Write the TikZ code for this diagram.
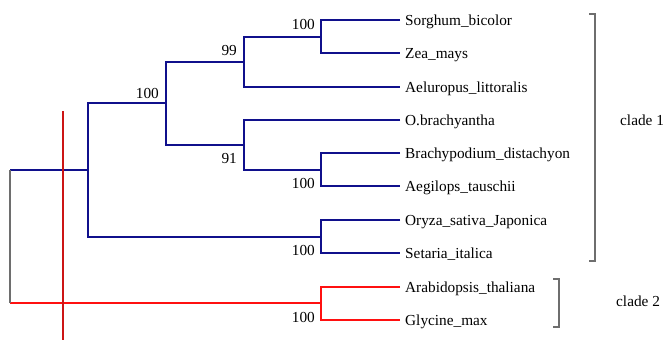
\documentclass[tikz,border=0pt]{standalone}
\usepackage{fontspec}
\setmainfont{Liberation Serif}
\definecolor{navyb}{HTML}{10108C}
\definecolor{redb}{HTML}{FF1010}
\definecolor{redm}{HTML}{CC1515}
\definecolor{brk}{HTML}{6E6E6E}
\tikzset{
  bl/.style={draw=navyb, line width=2.2pt},
  rd/.style={draw=redb, line width=2.2pt},
  leaf/.style={anchor=west, inner sep=0pt, inner xsep=5pt, text height=10pt, text depth=0pt, font=\fontsize{15.3}{18}\selectfont},
  boot/.style={inner sep=0pt, font=\fontsize{15.3}{18}\selectfont},
  clade/.style={anchor=base west, inner sep=0pt, font=\fontsize{15.3}{18}\selectfont},
  brack/.style={draw=brk, line width=1.1pt},
}
\begin{document}
\begin{tikzpicture}[x=1pt,y=-1pt]
\useasboundingbox (0,0) rectangle (665,340);
% leaves
\node[leaf] (L1) at (400,20) {Sorghum\_bicolor};
\node[leaf] (L2) at (400,53) {Zea\_mays};
\node[leaf] (L3) at (400,87) {Aeluropus\_littoralis};
\node[leaf] (L4) at (400,120) {O.brachyantha};
\node[leaf] (L5) at (400,153) {Brachypodium\_distachyon};
\node[leaf] (L6) at (400,186) {Aegilops\_tauschii};
\node[leaf] (L7) at (400,220) {Oryza\_sativa\_Japonica};
\node[leaf] (L8) at (400,253) {Setaria\_italica};
\node[leaf] (L9) at (400,287) {Arabidopsis\_thaliana};
\node[leaf] (L10) at (400,320) {Glycine\_max};
% internal nodes
\coordinate (nSZ) at (321,37);
\coordinate (n99) at (244,62);
\coordinate (nBA) at (321,170);
\coordinate (n91) at (244,145);
\coordinate (nA) at (166,103);
\coordinate (nOS) at (321,237);
\coordinate (nP) at (88,170);
\coordinate (nAG) at (321,303);
\coordinate (rT) at (10,170);
\coordinate (rB) at (10,303);
% blue tree
\draw[bl] (L1.west) -| (nSZ) |- (L2.west);
\draw[bl] (nSZ) -| (n99) |- (L3.west);
\draw[bl] (L5.west) -| (nBA) |- (L6.west);
\draw[bl] (L4.west) -| (n91) |- (nBA);
\draw[bl] (n99) -| (nA) |- (n91);
\draw[bl] (L7.west) -| (nOS) |- (L8.west);
\draw[bl] (nA) -| (nP) |- (nOS);
\draw[bl] (rT) -- (nP);
% red tree
\draw[rd] (L9.west) -| (nAG) |- (L10.west);
\draw[rd] (rB) -- (nAG);
\draw[draw=brk, line width=1.6pt] (rT) -- (rB);
% red marker line
\coordinate (mT) at (63,111);
\coordinate (mB) at (63,340);
\draw[draw=redm, line width=1.7pt] (mT) -- (mB);
% bootstrap values
\node[boot, anchor=base east] (b1) at (315,29) {100};
\node[boot, anchor=base east] (b2) at (237,55) {99};
\node[boot, anchor=base east] (b3) at (159,98) {100};
\node[boot, anchor=base east] (b4) at (237,163) {91};
\node[boot, anchor=base east] (b5) at (315,188) {100};
\node[boot, anchor=base east] (b6) at (315,255) {100};
\node[boot, anchor=base east] (b7) at (315,322) {100};
% clade brackets
\coordinate (c1a) at (589,14);
\coordinate (c1b) at (595,14);
\coordinate (c1c) at (595,261);
\coordinate (c1d) at (589,261);
\draw[brack] (c1a) -- (c1b) -- (c1c) -- (c1d);
\coordinate (c2a) at (553,279);
\coordinate (c2b) at (559,279);
\coordinate (c2c) at (559,327);
\coordinate (c2d) at (553,327);
\draw[brack] (c2a) -- (c2b) -- (c2c) -- (c2d);
\node[clade] (cl1) at (620,125) {clade 1};
\node[clade] (cl2) at (616,306) {clade 2};
\end{tikzpicture}
\end{document}
